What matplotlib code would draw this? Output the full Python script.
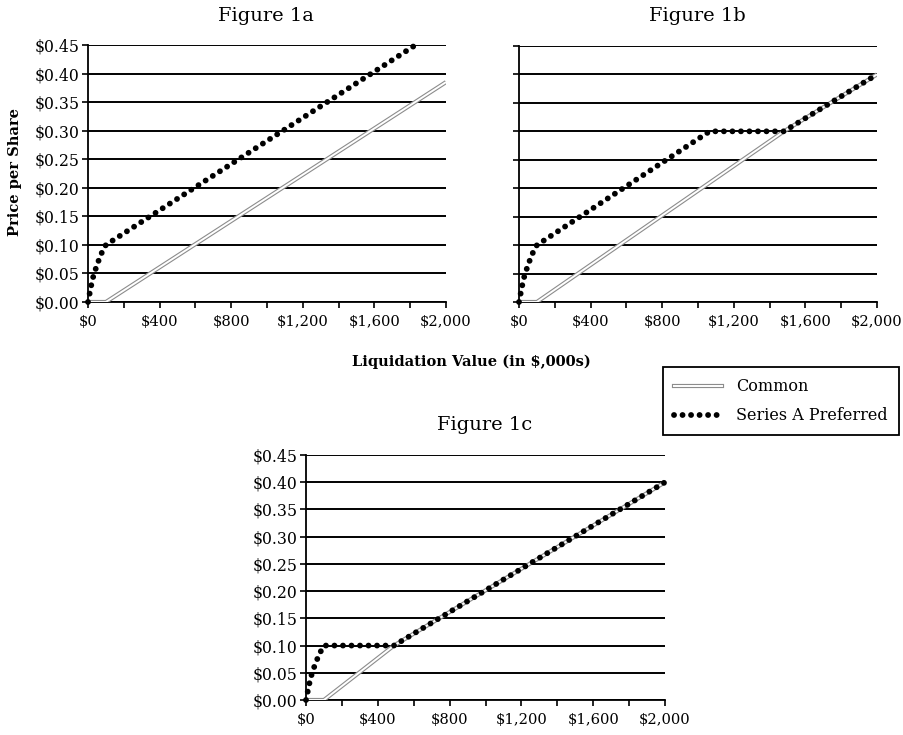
import matplotlib
matplotlib.use('Agg')
import matplotlib.pyplot as plt
from matplotlib.lines import Line2D
from matplotlib.ticker import MultipleLocator, FuncFormatter

# liquidation value ($,000s) and price per share
pref_1a_x = [0, 25, 50, 75, 100, 1830]
pref_1a_y = [0.0, 0.04, 0.065, 0.085, 0.10, 0.45]
common_1a_x = [0, 100, 2000]
common_1a_y = [0.0, 0.0, 0.385]

pref_1b_x = [0, 25, 50, 75, 100, 1065, 1480, 2000]
pref_1b_y = [0.0, 0.04, 0.065, 0.085, 0.10, 0.30, 0.30, 0.40]
common_1b_x = [0, 100, 1480, 2000]
common_1b_y = [0.0, 0.0, 0.30, 0.40]

pref_1c_x = [0, 25, 50, 75, 100, 490, 2000]
pref_1c_y = [0.0, 0.04, 0.065, 0.085, 0.10, 0.10, 0.40]
common_1c_x = [0, 100, 490, 2000]
common_1c_y = [0.0, 0.0, 0.10, 0.40]

titles = ["Figure 1a", "Figure 1b", "Figure 1c"]
series_names = ["Common", "Series A Preferred"]

plt.rcParams['font.family'] = ['DejaVu Serif']

W, H = 904, 735
fig = plt.figure(figsize=(W / 100, H / 100), dpi=100)
fig.patch.set_facecolor("white")


def px_axes(x0, y0, x1, y1):
    return fig.add_axes([x0 / W, 1 - y1 / H, (x1 - x0) / W, (y1 - y0) / H])


GRAY = "#8c8c8c"
DOT_LS = (0, (0.01, 1.45))
DOTS = dict(color="black", lw=4.2, linestyle=DOT_LS,
            dash_capstyle="round", clip_on=False, zorder=5)


def draw_common(ax, x, y):
    ax.plot(x, y, color=GRAY, lw=3.0, solid_capstyle="butt", zorder=3)
    ax.plot(x, y, color="white", lw=1.4, solid_capstyle="butt", zorder=4)


def style(ax, show_ylabels=True):
    ax.set_xlim(0, 2000)
    ax.set_ylim(0, 0.45)
    ax.yaxis.set_major_locator(MultipleLocator(0.05))
    ax.xaxis.set_major_locator(MultipleLocator(200))
    ax.yaxis.set_major_formatter(FuncFormatter(lambda v, p: f"${v:.2f}"))
    ax.xaxis.set_major_formatter(
        FuncFormatter(lambda v, p: f"${int(round(v)):,}" if round(v) % 400 == 0 else ""))
    ax.grid(axis="y", color="black", lw=1.4, zorder=1)
    ax.set_axisbelow(True)
    for s in ["top", "right"]:
        ax.spines[s].set_visible(False)
    for s in ["left", "bottom"]:
        ax.spines[s].set_linewidth(1.3)
    ax.tick_params(axis="both", direction="out", length=4, width=1.2,
                   colors="black")
    ax.tick_params(axis="y", pad=2, labelsize=11.3)
    ax.tick_params(axis="x", pad=5, labelsize=10.6)
    if not show_ylabels:
        ax.tick_params(axis="y", labelleft=False)


ax1 = px_axes(88, 45, 446, 302)
ax2 = px_axes(519, 46, 877, 302)
ax3 = px_axes(306, 455, 665, 700)

for ax, cx, cy, px_, py_, show in [
        (ax1, common_1a_x, common_1a_y, pref_1a_x, pref_1a_y, True),
        (ax2, common_1b_x, common_1b_y, pref_1b_x, pref_1b_y, False),
        (ax3, common_1c_x, common_1c_y, pref_1c_x, pref_1c_y, True)]:
    style(ax, show)
    draw_common(ax, cx, cy)
    ax.plot(px_, py_, **DOTS)

fig.text(266 / W, 1 - 16 / H, titles[0], ha="center", va="center", fontsize=14)
fig.text(697 / W, 1 - 16 / H, titles[1], ha="center", va="center", fontsize=14)
fig.text(485 / W, 1 - 425 / H, titles[2], ha="center", va="center", fontsize=14)

fig.text(15 / W, 1 - 172 / H, "Price per Share", rotation=90, ha="center",
         va="center", fontsize=10.5, fontweight="bold")
fig.text(471 / W, 1 - 362 / H, "Liquidation Value (in $,000s)", ha="center",
         va="center", fontsize=10.5, fontweight="bold")

h_common = (Line2D([], [], color=GRAY, lw=3.0), Line2D([], [], color="white", lw=1.4))
h_pref = Line2D([], [], color="black", lw=4.2, linestyle=DOT_LS,
                dash_capstyle="round")
leg = fig.legend([h_common, h_pref], series_names, loc="upper left",
                 bbox_to_anchor=(663 / W, 1 - 367 / H), fontsize=11.5,
                 frameon=True, fancybox=False, edgecolor="black",
                 framealpha=1, handlelength=3.0, borderpad=0.7,
                 labelspacing=0.75, handletextpad=0.9, borderaxespad=0)
leg.get_frame().set_linewidth(1.3)

fig.savefig("out.png", dpi=100, facecolor="white")
